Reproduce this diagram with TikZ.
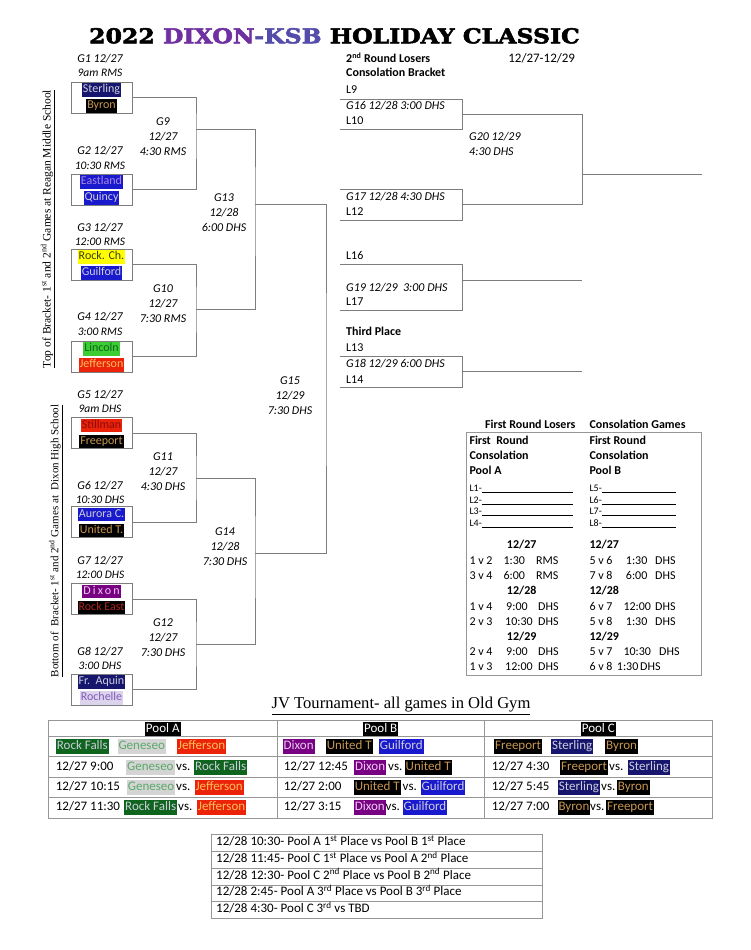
\documentclass[tikz,border=0pt]{standalone}
\usepackage{fontspec}
\setmainfont{Carlito}
\newfontfamily\timesfont{Liberation Serif}
\newfontfamily\titlefont{DejaVu Serif}[BoldFeatures={FakeBold=2.5}]
\usepackage{xcolor}
\usetikzlibrary{calc}
\definecolor{gristrait}{RGB}{125,125,125}
\definecolor{griscadre}{RGB}{150,150,150}
\definecolor{violetT}{RGB}{112,48,160}
\definecolor{bleuT}{RGB}{84,76,170}
\definecolor{marine}{RGB}{22,22,110}
\definecolor{clair}{RGB}{205,205,220}
\definecolor{or}{RGB}{200,150,80}
\definecolor{bleu}{RGB}{25,25,205}
\definecolor{lavande}{RGB}{170,135,225}
\definecolor{jaune}{RGB}{255,255,0}
\definecolor{olive}{RGB}{60,60,20}
\definecolor{vertclair}{RGB}{60,205,50}
\definecolor{vertfonce}{RGB}{15,100,30}
\definecolor{rouge}{RGB}{235,35,10}
\definecolor{orange}{RGB}{255,190,90}
\definecolor{bordeaux}{RGB}{140,10,10}
\definecolor{brique}{RGB}{175,35,30}
\definecolor{violet}{RGB}{120,0,130}
\definecolor{rose}{RGB}{235,205,240}
\definecolor{lilas}{RGB}{220,212,236}
\definecolor{mauve}{RGB}{130,90,185}
\definecolor{gris}{RGB}{212,212,212}
\definecolor{vertgris}{RGB}{90,170,105}
\begin{document}
\begin{tikzpicture}[x=1pt,y=-1pt,
    trait/.style={draw=gristrait, line width=1pt},
    cadre/.style={draw=griscadre, line width=0.8pt},
    boite/.style={draw=gristrait, line width=1pt, minimum width=61pt, minimum height=31pt, inner sep=0pt},
    jeu/.style={font=\fontsize{12}{15}\selectfont\itshape, inner sep=0pt, anchor=mid},
    heure/.style={font=\fontsize{11.5}{14}\selectfont\itshape, inner sep=0pt, anchor=mid},
    tour/.style={font=\fontsize{12}{15}\selectfont\itshape, inner sep=0pt, align=center},
    txt/.style={font=\fontsize{12}{15}\selectfont, inner sep=0pt, anchor=mid west},
    final/.style={font=\fontsize{13}{16}\selectfont, inner sep=0pt, anchor=mid west},
    petit/.style={font=\fontsize{10}{12}\selectfont, inner sep=0pt, anchor=mid west},
    gras/.style={font=\fontsize{12}{15}\selectfont\bfseries, inner sep=0pt, anchor=mid west},
    equipe/.style n args={2}{fill=#1, text=#2, font=\fontsize{12}{15}\selectfont, inner xsep=1pt, inner ysep=0.5pt, text height=9pt, text depth=3.5pt},
    jv/.style n args={2}{fill=#1, text=#2, font=\fontsize{13}{16}\selectfont, inner xsep=1pt, inner ysep=0.5pt, text height=10pt, text depth=4pt, anchor=west},
    jvt/.style={font=\fontsize{13}{16}\selectfont, inner xsep=0pt, inner ysep=0.5pt, text height=10pt, text depth=4pt, anchor=west},
    poule/.style={fill=black, text=white, font=\fontsize{13}{16}\selectfont, inner xsep=1pt, inner ysep=0.5pt, text height=9.5pt, text depth=3pt}]
\useasboundingbox (0,0) rectangle (750,950);
\fill[white] (0,0) rectangle (750,950);
% titre
\node[anchor=base, inner sep=0pt, font=\titlefont\fontsize{20.5}{24}\selectfont\bfseries] (titre) at (334.5,43.3)
    {\scalebox{1.15}[1]{2022 \textcolor{violetT}{DIXON}\textcolor{bleuT}{-KSB} HOLIDAY CLASSIC}};
% cotes
\node[rotate=90, inner sep=0pt, font=\timesfont\fontsize{11.5}{14}\selectfont] (haut) at (48,229)
    {\underline{Top of Bracket- 1\textsuperscript{st} and 2\textsuperscript{nd} Games at Reagan Middle School}};
\node[rotate=90, inner sep=0pt, font=\timesfont\fontsize{11}{14}\selectfont] (bas) at (56,541)
    {\underline{Bottom of \ Bracket- 1\textsuperscript{st} and 2\textsuperscript{nd} Games at \ Dixon High School}};
% premier tour
\node[boite] (b1) at (101.5,97.5) {};
\node[boite] (b2) at (101.5,189.5) {};
\node[boite] (b3) at (101.5,264.5) {};
\node[boite] (b4) at (101.5,356.5) {};
\node[boite] (b5) at (101.5,433) {};
\node[boite] (b6) at (101.5,522) {};
\node[boite] (b7) at (101.5,599) {};
\node[boite] (b8) at (101.5,689.5) {};
\node[equipe={marine}{clair}] (e1) at (101.5,90) {Sterling};
\node[equipe={black}{or}] (e2) at (101.5,106) {Byron};
\node[equipe={bleu}{lavande}] (e3) at (101.5,182) {Eastland};
\node[equipe={bleu}{clair}] (e4) at (101.5,198) {Quincy};
\node[equipe={jaune}{olive}] (e5) at (101.5,257) {Rock. Ch.};
\node[equipe={bleu}{clair}] (e6) at (101.5,273) {Guilford};
\node[equipe={vertclair}{vertfonce}] (e7) at (101.5,349) {Lincoln};
\node[equipe={rouge}{orange}] (e8) at (101.5,365) {Jefferson};
\node[equipe={rouge}{bordeaux}] (e9) at (101.5,425.5) {Stillman};
\node[equipe={black}{or}] (e10) at (101.5,441.5) {Freeport};
\node[equipe={bleu}{clair}] (e11) at (101.5,514.5) {Aurora C.};
\node[equipe={black}{or}] (e12) at (101.5,530.5) {United T.};
\node[equipe={violet}{rose}] (e13) at (101.5,591.5) {\addfontfeature{LetterSpace=18}Dixon};
\node[equipe={black}{brique}] (e14) at (101.5,607.5) {Rock East};
\node[equipe={marine}{clair}] (e15) at (101.5,682) {Fr.\ \ Aquin};
\node[equipe={lilas}{mauve}] (e16) at (101.5,698) {Rochelle};
\node[jeu] (j1) at (100,60) {G1 12/27};
\node[heure] (h1) at (100,74) {9am RMS};
\node[jeu] (j2) at (100,152.3) {G2 12/27};
\node[heure] (h2) at (100,166.7) {10:30 RMS};
\node[jeu] (j3) at (100,229) {G3 12/27};
\node[heure] (h3) at (100,242.7) {12:00 RMS};
\node[jeu] (j4) at (100,318.3) {G4 12/27};
\node[heure] (h4) at (100,333.3) {3:00 RMS};
\node[jeu] (j5) at (100,395.7) {G5 12/27};
\node[heure] (h5) at (100,410) {9am DHS};
\node[jeu] (j6) at (100,487.3) {G6 12/27};
\node[heure] (h6) at (100,500.7) {10:30 DHS};
\node[jeu] (j7) at (100,562.3) {G7 12/27};
\node[heure] (h7) at (100,575.7) {12:00 DHS};
\node[jeu] (j8) at (100,652.7) {G8 12/27};
\node[heure] (h8) at (100,667.3) {3:00 DHS};
% tours suivants
\coordinate (g9) at (196,129);
\coordinate (g10) at (196,309);
\coordinate (g11) at (196,478);
\coordinate (g12) at (196,644);
\coordinate (g13) at (255,204);
\coordinate (g14) at (255,553);
\coordinate (g15) at (326,380);
\draw[trait] (b1.east) -| (g9) |- (b2.east);
\draw[trait] (b3.east) -| (g10) |- (b4.east);
\draw[trait] (b5.east) -| (g11) |- (b6.east);
\draw[trait] (b7.east) -| (g12) |- (b8.east);
\draw[trait] (g9) -| (g13) |- (g10);
\draw[trait] (g11) -| (g14) |- (g12);
\draw[trait] (g13) -| (g15) |- (g14);
\node[tour] (t9) at (163,137) {G9\\12/27\\4:30 RMS};
\node[tour] (t10) at (163,303.3) {G10\\12/27\\7:30 RMS};
\node[tour] (t11) at (163,471.7) {G11\\12/27\\4:30 DHS};
\node[tour] (t12) at (163,637.3) {G12\\12/27\\7:30 DHS};
\node[tour] (t13) at (224,213) {G13\\12/28\\6:00 DHS};
\node[tour] (t14) at (225,546.5) {G14\\12/28\\7:30 DHS};
\node[tour] (t15) at (290,396) {G15\\12/29\\7:30 DHS};
% consolation
\node[gras] (cons1) at (346,60) {2\textsuperscript{nd} Round Losers};
\node[gras] (cons2) at (346,74.3) {Consolation Bracket};
\node[inner sep=0pt, anchor=mid, font=\fontsize{13}{16}\selectfont] (dates) at (541.7,60) {12/27-12/29};
\node[txt] (l9) at (346,91) {L9};
\node[jeu, anchor=mid west] (c16) at (346,106.7) {G16 12/28 3:00 DHS};
\node[txt] (l10) at (346,121.7) {L10};
\node[jeu, anchor=mid west] (c17) at (346,197.7) {G17 12/28 4:30 DHS};
\node[txt] (l12) at (346,213.3) {L12};
\node[txt] (l16) at (346,257.3) {L16};
\node[jeu, anchor=mid west] (c19) at (346,289) {G19 12/29 \ 3:00 DHS};
\node[txt] (l17) at (346,303.3) {L17};
\node[gras] (trois) at (346,333.3) {Third Place};
\node[txt] (l13) at (346,349.3) {L13};
\node[jeu, anchor=mid west] (c18) at (346,365) {G18 12/29 6:00 DHS};
\node[txt] (l14) at (346,380.7) {L14};
\node[jeu, anchor=mid west] (c20a) at (469,137.7) {G20 12/29};
\node[jeu, anchor=mid west] (c20b) at (469,152.7) {4:30 DHS};
\coordinate (k16a) at (340,99);    \coordinate (k16b) at (462.7,129);
\coordinate (k17a) at (340,189.3); \coordinate (k17b) at (462.7,220.3);
\coordinate (k19a) at (340,264.3); \coordinate (k19b) at (462.7,310);
\coordinate (k18a) at (340,356.7); \coordinate (k18b) at (462.7,387.3);
\draw[trait] (k16a) -| (k16b) -- (k16b -| k16a);
\draw[trait] (k17a) -| (k17b) -- (k17b -| k17a);
\draw[trait] (k19a) -| (k19b) -- (k19b -| k19a);
\draw[trait] (k18a) -| (k18b) -- (k18b -| k18a);
\coordinate (s16) at ($(k16a -| k16b)!0.5!(k16b)$);
\coordinate (s17) at ($(k17a -| k17b)!0.5!(k17b)$);
\coordinate (s19) at (462.7,280);
\coordinate (s18) at (462.7,371.7);
\coordinate (g20) at (582.3,174.3);
\draw[trait] (s16) -| (g20) |- (s17);
\draw[trait] (g20) -- (701.7,174.3);
\draw[trait] (s19) -- (582.3,280);
\draw[trait] (s18) -- (582.3,371.7);
% poules de consolation
\node[gras] (p1) at (485,426) {First Round Losers};
\node[gras] (p2) at (589.3,426) {Consolation Games};
\draw[cadre] (466,432.7) rectangle (701,675);
\node[gras] (pa1) at (469.3,441.7) {First \ Round};
\node[gras] (pa2) at (469.3,456.7) {Consolation};
\node[gras] (pa3) at (469.3,471.7) {Pool A};
\node[gras] (pb1) at (589.3,441.7) {First Round};
\node[gras] (pb2) at (589.3,456.7) {Consolation};
\node[gras] (pb3) at (589.3,471.7) {Pool B};
\node[petit] (la1) at (469.3,489) {L1-\rule[-1pt]{91pt}{0.5pt}};
\node[petit] (la2) at (469.3,500.7) {L2-\rule[-1pt]{91pt}{0.5pt}};
\node[petit] (la3) at (469.3,512) {L3-\rule[-1pt]{91pt}{0.5pt}};
\node[petit] (la4) at (469.3,524) {L4-\rule[-1pt]{91pt}{0.5pt}};
\node[petit] (lb5) at (589.3,489) {L5-\rule[-1pt]{74pt}{0.5pt}};
\node[petit] (lb6) at (589.3,500.7) {L6-\rule[-1pt]{74pt}{0.5pt}};
\node[petit] (lb7) at (589.3,512) {L7-\rule[-1pt]{74pt}{0.5pt}};
\node[petit] (lb8) at (589.3,524) {L8-\rule[-1pt]{74pt}{0.5pt}};
\node[gras, anchor=mid] (da1) at (521.7,546) {12/27};
\node[gras, anchor=mid] (da2) at (521.7,592.3) {12/28};
\node[gras, anchor=mid] (da3) at (521.7,638.3) {12/29};
\node[gras] (db1) at (589.3,546) {12/27};
\node[gras] (db2) at (589.3,592.3) {12/28};
\node[gras] (db3) at (589.3,638.3) {12/29};
\node[txt] (ra1) at (469.3,561.7) {\makebox[34pt][l]{1 v 2}\makebox[32.7pt][l]{1:30}RMS};
\node[txt] (ra2) at (469.3,576.7) {\makebox[34pt][l]{3 v 4}\makebox[32.7pt][l]{6:00}RMS};
\node[txt] (ra3) at (469.3,607.7) {\makebox[36.7pt][l]{1 v 4}\makebox[32pt][l]{9:00}DHS};
\node[txt] (ra4) at (469.3,622.7) {\makebox[35.7pt][l]{2 v 3}\makebox[33pt][l]{10:30}DHS};
\node[txt] (ra5) at (469.3,653.3) {\makebox[36.7pt][l]{2 v 4}\makebox[32pt][l]{9:00}DHS};
\node[txt] (ra6) at (469.3,668.3) {\makebox[35.7pt][l]{1 v 3}\makebox[33pt][l]{12:00}DHS};
\node[txt] (rb1) at (589.3,561.7) {\makebox[36.4pt][l]{5 v 6}\makebox[29.3pt][l]{1:30}DHS};
\node[txt] (rb2) at (589.3,576.7) {\makebox[36.4pt][l]{7 v 8}\makebox[29.3pt][l]{6:00}DHS};
\node[txt] (rb3) at (589.3,607.7) {\makebox[34pt][l]{6 v 7}\makebox[31.7pt][l]{12:00}DHS};
\node[txt] (rb4) at (589.3,622.7) {\makebox[36.4pt][l]{5 v 8}\makebox[29.3pt][l]{1:30}DHS};
\node[txt] (rb5) at (589.3,653.3) {\makebox[34pt][l]{5 v 7}\makebox[35.7pt][l]{10:30}DHS};
\node[txt] (rb6) at (589.3,668.3) {\makebox[27.4pt][l]{6 v 8}\makebox[23.3pt][l]{1:30}DHS};
% JV
\node[inner sep=0pt, font=\timesfont\fontsize{16.6}{19}\selectfont] (jvtitre) at (401,706) {\underline{JV Tournament- all games in Old Gym}};
\draw[cadre] (48.3,720.7) rectangle (712.7,818);
\foreach \y in {736.7,756.7,777.3,797.7} \draw[cadre] (48.3,\y) -- (712.7,\y);
\foreach \x in {277.3,484} \draw[cadre] (\x,720.7) -- (\x,818);
\node[poule] (pA) at (162.8,729) {Pool A};
\node[poule] (pB) at (380.7,729) {Pool B};
\node[poule] (pC) at (598.3,729) {Pool C};
% pool A
\node[jv={vertfonce}{clair}] (a1) at (55.7,746) {Rock Falls};
\node[jv={gris}{vertgris}] (a2) at (117.3,746) {Geneseo};
\node[jv={rouge}{orange}] (a3) at (176.7,746) {Jefferson};
\node[jvt] (a4) at (55.7,767) {12/27 9:00};
\node[jv={gris}{vertgris}] (a5) at (126,767) {Geneseo};
\node[jvt] (a6) at (176,767) {vs.};
\node[jv={vertfonce}{clair}] (a7) at (194,767) {Rock Falls};
\node[jvt] (a8) at (55.7,787.5) {12/27 10:15};
\node[jv={gris}{vertgris}] (a9) at (126.7,787.5) {Geneseo};
\node[jvt] (a10) at (176,787.5) {vs.};
\node[jv={rouge}{orange}] (a11) at (194.3,787.5) {Jefferson};
\node[jvt] (a12) at (55.7,807.8) {12/27 11:30};
\node[jv={vertfonce}{clair}] (a13) at (124,807.8) {Rock Falls};
\node[jvt] (a14) at (178,807.8) {vs.};
\node[jv={rouge}{orange}] (a15) at (196.7,807.8) {Jefferson};
% pool B
\node[jv={violet}{rose}] (b1j) at (282.5,746) {Dixon};
\node[jv={black}{or}] (b2j) at (325.6,746) {United T};
\node[jv={bleu}{clair}] (b3j) at (378.7,746) {Guilford};
\node[jvt] (b4j) at (283.7,767) {12/27 12:45};
\node[jv={violet}{rose}] (b5j) at (354,767) {Dixon};
\node[jvt] (b6j) at (388,767) {vs.};
\node[jv={black}{or}] (b7j) at (404.5,767) {United T};
\node[jvt] (b8j) at (283.7,787.5) {12/27 2:00};
\node[jv={black}{or}] (b9j) at (353.6,787.5) {United T};
\node[jvt] (b10j) at (402.5,787.5) {vs.};
\node[jv={bleu}{clair}] (b11j) at (420.5,787.5) {Guilford};
\node[jvt] (b12j) at (283.7,807.8) {12/27 3:15};
\node[jv={violet}{rose}] (b13j) at (353.6,807.8) {Dixon};
\node[jvt] (b14j) at (385.5,807.8) {vs.};
\node[jv={bleu}{clair}] (b15j) at (402.4,807.8) {Guilford};
% pool C
\node[jv={black}{or}] (c1j) at (494,746) {Freeport};
\node[jv={marine}{clair}] (c2j) at (551,746) {Sterling};
\node[jv={black}{or}] (c3j) at (605,746) {Byron};
\node[jvt] (c4j) at (491.7,767) {12/27 4:30};
\node[jv={black}{or}] (c5j) at (560,767) {Freeport};
\node[jvt] (c6j) at (609,767) {vs.};
\node[jv={marine}{clair}] (c7j) at (627.7,767) {Sterling};
\node[jvt] (c8j) at (491.7,787.5) {12/27 5:45};
\node[jv={marine}{clair}] (c9j) at (557.7,787.5) {Sterling};
\node[jvt] (c10j) at (601,787.5) {vs.};
\node[jv={black}{or}] (c11j) at (616.7,787.5) {Byron};
\node[jvt] (c12j) at (491.7,807.8) {12/27 7:00};
\node[jv={black}{or}] (c13j) at (557.3,807.8) {Byron};
\node[jvt] (c14j) at (590,807.8) {vs.};
\node[jv={black}{or}] (c15j) at (606,807.8) {Freeport};
% classement
\draw[cadre] (211.7,834.3) rectangle (542.3,918.3);
\foreach \y in {851.7,868.3,885,901.7} \draw[cadre] (211.7,\y) -- (542.3,\y);
\node[final] (f1) at (216,843) {12/28 10:30- Pool A 1\textsuperscript{st} Place vs Pool B 1\textsuperscript{st} Place};
\node[final] (f2) at (216,860) {12/28 11:45- Pool C 1\textsuperscript{st} Place vs Pool A 2\textsuperscript{nd} Place};
\node[final] (f3) at (216,876.7) {12/28 12:30- Pool C 2\textsuperscript{nd} Place vs Pool B 2\textsuperscript{nd} Place};
\node[final] (f4) at (216,893.3) {12/28 2:45- Pool A 3\textsuperscript{rd} Place vs Pool B 3\textsuperscript{rd} Place};
\node[final] (f5) at (216,910) {12/28 4:30- Pool C 3\textsuperscript{rd} vs TBD};
\end{tikzpicture}
\end{document}
